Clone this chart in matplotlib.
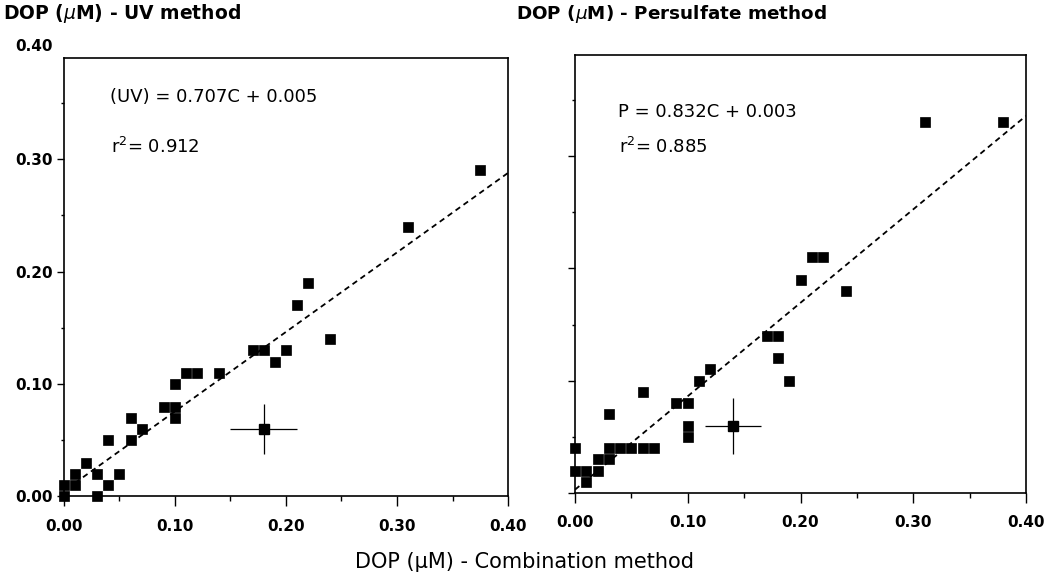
import matplotlib
matplotlib.use("Agg")
import matplotlib.pyplot as plt
from matplotlib.ticker import MultipleLocator, FormatStrFormatter, FixedLocator

# ---------------- data ----------------
# Left panel: UV method vs Combination method
uv_x = [0.00, 0.00, 0.01, 0.01, 0.02, 0.03, 0.03, 0.04, 0.04, 0.05, 0.06, 0.06,
        0.07, 0.09, 0.10, 0.10, 0.10, 0.11, 0.12, 0.14, 0.17, 0.18, 0.19, 0.20,
        0.21, 0.22, 0.24, 0.31, 0.375]
uv_y = [0.00, 0.01, 0.01, 0.02, 0.03, 0.00, 0.02, 0.01, 0.05, 0.02, 0.05, 0.07,
        0.06, 0.08, 0.08, 0.07, 0.10, 0.11, 0.11, 0.11, 0.13, 0.13, 0.12, 0.13,
        0.17, 0.19, 0.14, 0.24, 0.29]
uv_slope, uv_intercept = 0.707, 0.005
uv_fit_range = [0.01, 0.40]
uv_err_point = [0.18, 0.06]
uv_err_x, uv_err_y = 0.03, 0.022
uv_equation = "(UV) = 0.707C + 0.005"
uv_r2 = "r$^{2}$= 0.912"

# Right panel: Persulfate method vs Combination method
p_x = [0.00, 0.00, 0.01, 0.01, 0.02, 0.02, 0.03, 0.03, 0.03, 0.04, 0.05, 0.06,
       0.07, 0.06, 0.09, 0.10, 0.10, 0.10, 0.11, 0.12, 0.17, 0.18, 0.18, 0.19,
       0.20, 0.21, 0.22, 0.24, 0.31, 0.38]
p_y = [0.04, 0.02, 0.02, 0.01, 0.02, 0.03, 0.03, 0.04, 0.07, 0.04, 0.04, 0.04,
       0.04, 0.09, 0.08, 0.08, 0.06, 0.05, 0.10, 0.11, 0.14, 0.14, 0.12, 0.10,
       0.19, 0.21, 0.21, 0.18, 0.33, 0.33]
p_slope, p_intercept = 0.832, 0.003
p_fit_range = [0.00, 0.40]
p_err_point = [0.14, 0.06]
p_err_x, p_err_y = 0.025, 0.025
p_equation = "P = 0.832C + 0.003"
p_r2 = "r$^{2}$= 0.885"

x_ticks = [0.00, 0.10, 0.20, 0.30, 0.40]
y_ticks = [0.00, 0.10, 0.20, 0.30]

title_left = "DOP ($\\mu$M) - UV method"
title_right = "DOP ($\\mu$M) - Persulfate method"
x_label = "DOP (\u03bcM) - Combination method"

# ---------------- figure ----------------
plt.rcParams['font.family'] = ['DejaVu Sans']
plt.rcParams['mathtext.fontset'] = 'dejavusans'

fig = plt.figure(figsize=(10.52, 5.79), dpi=100)
ax1 = fig.add_axes([0.0608, 0.1425, 0.4221, 0.7573])
ax2 = fig.add_axes([0.5466, 0.1485, 0.4287, 0.7565])


def panel(ax, xs, ys, slope, icpt, fit_range, errpt, ex, ey, eq, r2, eqpos, show_ylabels):
    ax.plot(xs, ys, 's', color='black', ms=6.5, mec='black', mew=0.5,
            clip_on=False, zorder=4)
    fx = [fit_range[0], fit_range[1]]
    fy = [slope * v + icpt for v in fx]
    ax.plot(fx, fy, color='black', lw=1.3, dashes=(3.1, 2.3), zorder=3)
    ax.errorbar([errpt[0]], [errpt[1]], xerr=[ex], yerr=[ey], fmt='s',
                color='black', ms=6.5, elinewidth=0.9, capsize=0, zorder=4)
    ax.set_xlim(0, 0.40)
    ax.set_ylim(0, 0.39)
    ax.xaxis.set_major_locator(FixedLocator(x_ticks))
    ax.xaxis.set_minor_locator(MultipleLocator(0.05))
    ax.yaxis.set_major_locator(FixedLocator(y_ticks))
    ax.yaxis.set_minor_locator(FixedLocator([0.05, 0.15, 0.25, 0.35]))
    ax.xaxis.set_major_formatter(FormatStrFormatter('%.2f'))
    ax.yaxis.set_major_formatter(FormatStrFormatter('%.2f'))
    ax.tick_params(axis='x', which='major', length=7, width=1.0, pad=9,
                   labelsize=11, direction='out')
    ax.tick_params(axis='x', which='minor', length=3.5, width=1.0, direction='out')
    ax.tick_params(axis='y', which='major', length=5, width=1.0, pad=3,
                   labelsize=11, direction='out', labelleft=show_ylabels)
    ax.tick_params(axis='y', which='minor', length=2.5, width=1.0, direction='out')
    for lab in ax.get_xticklabels() + ax.get_yticklabels():
        lab.set_fontweight('bold')
    for sp in ax.spines.values():
        sp.set_linewidth(1.2)
    ax.text(eqpos[0], eqpos[1], eq, transform=ax.transAxes, fontsize=13,
            ha='left', va='center')
    ax.text(eqpos[0] + 0.002, eqpos[2], r2, transform=ax.transAxes, fontsize=13,
            ha='left', va='center')


panel(ax1, uv_x, uv_y, uv_slope, uv_intercept, uv_fit_range, uv_err_point,
      uv_err_x, uv_err_y, uv_equation, uv_r2, (0.104, 0.911, 0.797), True)
panel(ax2, p_x, p_y, p_slope, p_intercept, p_fit_range, p_err_point,
      p_err_x, p_err_y, p_equation, p_r2, (0.095, 0.870, 0.790), False)

# top y label (axis box ends just below 0.40)
ax1.annotate("0.40", xy=(0, 0.40), xycoords=('axes fraction', 'data'),
             xytext=(-8, 0), textcoords='offset points', ha='right', va='center',
             fontsize=11, fontweight='bold', annotation_clip=False)

fig.text(0.003, 0.976, title_left, fontsize=13.5, fontweight='bold',
         ha='left', va='center')
fig.text(0.4905, 0.976, title_right, fontsize=13.2, fontweight='bold',
         ha='left', va='center')
fig.text(0.499, 0.0294, x_label, fontsize=15, ha='center', va='center')

fig.savefig("out.png", dpi=100)
